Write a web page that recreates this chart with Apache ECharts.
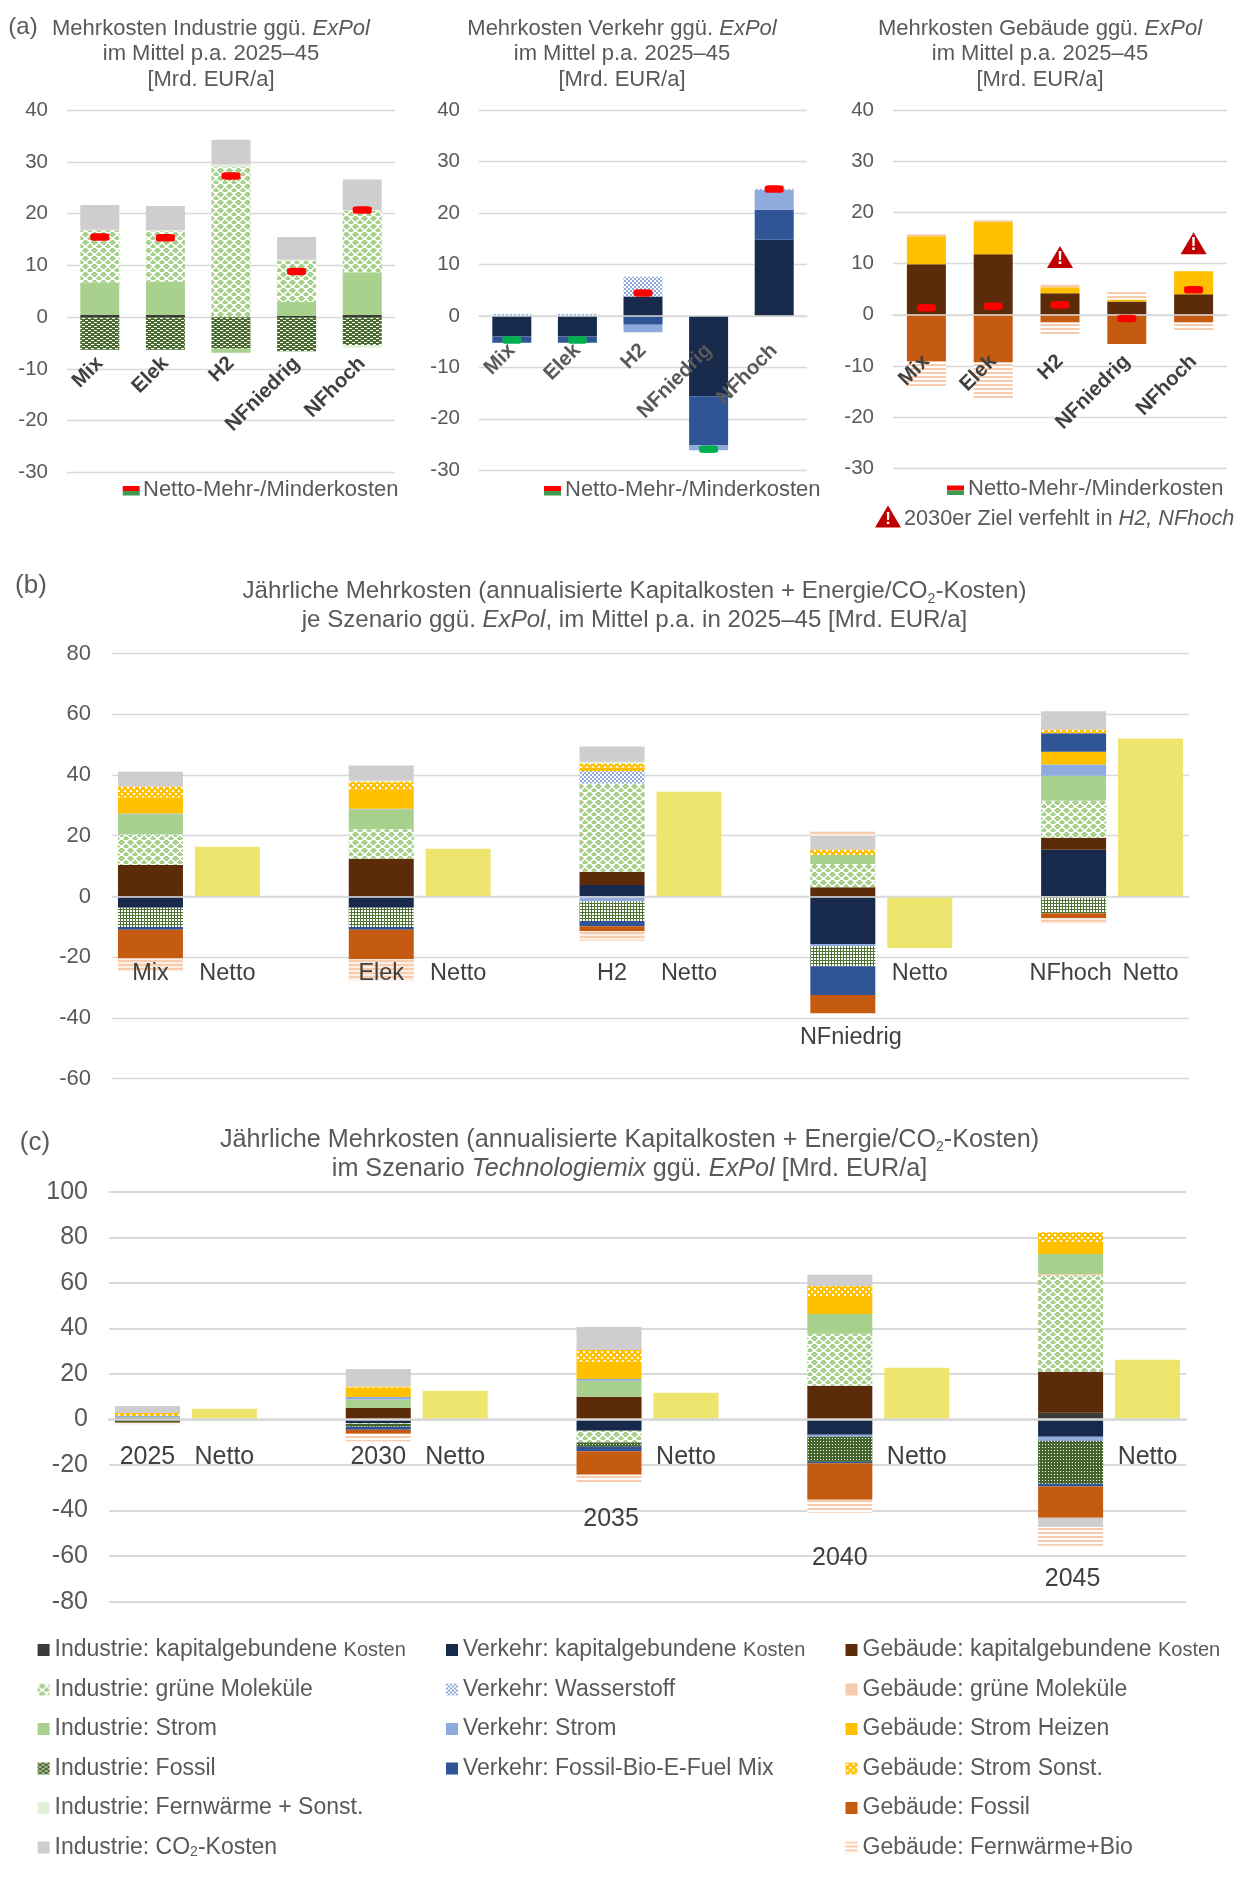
<!DOCTYPE html>
<html><head><meta charset="utf-8">
<style>html,body{margin:0;padding:0;background:#fff}#c{width:1255px;height:1882px}</style>
<script src="https://cdn.jsdelivr.net/npm/echarts@6/dist/echarts.min.js"></script>
</head><body><div id="c"></div>
<script>
/* ---------- data ---------- */
const scenarios = ['Mix','Elek','H2','NFniedrig','NFhoch'];
// (a) Industrie
const aIndKap    = [0.4,0.4,0,0.2,0.4];
const aIndStrom  = [6.3,6.5,0,2.8,8.3];
const aIndGruen  = [10.1,9.7,29,7.9,11.9];
const aIndFern   = [0.1,0.2,0.5,0.2,0.1];
const aIndCO2    = [4.8,4.7,4.8,4.4,5.9];
const aIndFossil = [-6.3,-6.3,-6.1,-6.6,-5.4];
const aIndStromN = [0,0,-0.8,0,0];
const aIndFernN  = [0,0,0,0,-0.5];
const aIndNet    = [15.5,15.35,27.3,8.85,20.7];
// (a) Verkehr
const aVerKap    = [-4.0,-4.0,3.75,-15.6,14.8];
const aVerFossil = [-1.2,-1.2,-1.7,-9.6,5.8];
const aVerStrom  = [0,0,-1.5,-0.9,3.9];
const aVerH2     = [0.4,0.4,3.85,0,0.2];
const aVerNetUp  = [null,null,4.45,null,24.65];
const aVerNetDn  = [-4.7,-4.7,null,-25.9,null];
// (a) Gebäude
const aGebKap    = [9.9,11.85,4.2,2.6,4.0];
const aGebHeiz   = [5.45,6.35,1.2,0.4,4.5];
const aGebGruen  = [0.4,0.3,0.5,0,0];
const aGebFossil = [-9.1,-9.3,-1.5,-5.7,-1.5];
const aGebFern   = [-5.1,-7.1,-2.3,1.6,-1.7];
const aGebNet    = [1.4,1.7,1.95,-0.7,4.9];
const aGebWarn   = [null,null,11.3,null,14];

// (b) scenario comparison
const bCats = ['Mix','Netto','','Elek','Netto','','H2','Netto','','NFniedrig','Netto','','NFhoch','Netto'];
const bVerKap   = [-3.75,null,null,-3.75,null,null,3.75,null,null,-15.7,null,null,15.4,null];
const bGebKap   = [10.35,null,null,12.4,null,null,4.35,null,null,3.07,null,null,3.9,null];
const bIndGruen = [10.0,null,null,9.7,null,null,29.1,null,null,7.6,null,null,12.2,null];
const bVerH2    = [0.15,null,null,0,null,null,4.1,null,null,0,null,null,0,null];
const bIndStrom = [6.6,null,null,6.6,null,null,0,null,null,2.95,null,null,8.3,null];
const bVerStrom = [0.2,null,null,0.2,null,null,-1.7,null,null,-0.7,null,null,3.7,null];
const bIndFossil= [-6.35,null,null,-6.35,null,null,-6.4,null,null,-6.6,null,null,-5.5,null];
const bHeiz     = [5.35,null,null,6.25,null,null,1.2,null,null,0,null,null,4.2,null];
const bVerFossil= [-0.9,null,null,-0.9,null,null,-1.7,null,null,-9.5,null,null,6.1,null];
const bSonst    = [3.55,null,null,2.75,null,null,1.3,null,null,1.85,null,null,1.2,null];
const bIndFern  = [0,null,null,0.2,null,null,0.6,null,null,0,null,null,0,null];
const bGebFossil= [-9.4,null,null,-9.7,null,null,-1.6,null,null,-6.0,null,null,-1.7,null];
const bCO2      = [4.9,null,null,5.0,null,null,5.0,null,null,4.5,null,null,6.0,null];
const bGebFern  = [-4.2,null,null,-6.9,null,null,-3.2,null,null,1.6,null,null,-1.7,null];
const bNetto    = [null,16.4,null,null,15.7,null,null,34.5,null,null,-17,null,null,52];

// (c) development over time
const cCats = ['2025','Netto','','2030','Netto','','2035','Netto','','2040','Netto','','2045','Netto'];
const cIndKap   = [0.2,null,null,0,null,null,0,null,null,0,null,null,2.9,null];
const cVerKap   = [-0.7,null,null,-1.6,null,null,-5,null,null,-6.7,null,null,-7.6,null];
const cGebKap   = [0.5,null,null,5.1,null,null,9.95,null,null,14.8,null,null,18,null];
const cIndGruen = [0,null,null,-0.3,null,null,-5.1,null,null,22.8,null,null,42.4,null];
const cGebGruen = [0,null,null,0,null,null,0,null,null,0,null,null,0.6,null];
const cIndStrom = [0.3,null,null,3.7,null,null,7.05,null,null,8.7,null,null,8.8,null];
const cVerStrom = [0.5,null,null,1.1,null,null,0.8,null,null,-0.9,null,null,-1.8,null];
const cIndFossil= [-0.6,null,null,-1.3,null,null,-1.9,null,null,-11,null,null,-18.8,null];
const cHeiz     = [0,null,null,4.1,null,null,7.6,null,null,7.9,null,null,5.3,null];
const cVerFossil= [0,null,null,-1.3,null,null,-2,null,null,-0.6,null,null,-1.2,null];
const cSonst    = [1.3,null,null,0.5,null,null,5.1,null,null,4.4,null,null,4.2,null];
const cGebFossil= [-0.4,null,null,-1.8,null,null,-10.3,null,null,-16,null,null,-13.7,null];
const cCO2      = [3.1,null,null,7.7,null,null,10.1,null,null,4.9,null,null,-4.1,null];
const cGebFern  = [-0.4,null,null,-3.3,null,null,-3.9,null,null,-5.7,null,null,-8.2,null];
const cNetto    = [null,4.7,null,null,12.6,null,null,11.7,null,null,22.7,null,null,26.2];

const N = {
  ik:'Industrie: kapitalgebundene Kosten', ig:'Industrie: grüne Moleküle', is:'Industrie: Strom', iff:'Industrie: Fossil', ifw:'Industrie: Fernwärme + Sonst.', ic:'Industrie: CO2-Kosten',
  vk:'Verkehr: kapitalgebundene Kosten', vh:'Verkehr: Wasserstoff', vs:'Verkehr: Strom', vf:'Verkehr: Fossil-Bio-E-Fuel Mix',
  gk:'Gebäude: kapitalgebundene Kosten', gg:'Gebäude: grüne Moleküle', gh:'Gebäude: Strom Heizen', gs:'Gebäude: Strom Sonst.', gf:'Gebäude: Fossil', gw:'Gebäude: Fernwärme+Bio'
};

/* ---------- styles ---------- */
function tile(w,h,bg,draw){const c=document.createElement('canvas');c.width=w;c.height=h;const x=c.getContext('2d');x.fillStyle=bg;x.fillRect(0,0,w,h);draw(x);return {image:c,repeat:'repeat'};}
function px(x,fg,pts){x.fillStyle=fg;pts.forEach(p=>x.fillRect(p[0],p[1],p[2]||1,p[3]||1));}
const C = {
  ik:'#3B3B38', is:'#A9D18E', ifw:'#E2F0D9', ic:'#CFCDCD', vk:'#172A4B', vs:'#8FAADC', vf:'#2F5597',
  gk:'#5C2B09', gg:'#F8CBAD', gh:'#FFC000', gf:'#C55A11', net:'#EEE56E',
  ig:tile(9,8,'#fff',x=>px(x,'#A9D18E',[[3,0,3,1],[2,1,5,1],[1,2,7,1],[2,3,5,1],[3,4,3,1],[0,4,1,1],[8,4,1,1],[0,5,2,1],[7,5,2,1],[0,6,3,1],[6,6,3,1],[0,7,2,1],[7,7,2,1]])),
  iff:tile(6,4,'#4A6B30',x=>px(x,'#fff',[[1,0,3,1],[4,2,2,1],[0,2,1,1]])),
  iffFine:tile(3,3,'#fff',x=>px(x,'#4F7335',[[0,0,3,1],[0,0,1,3]])),
  iffDense:tile(3,3,'#44652C',x=>px(x,'#fff',[[1,1,1,1]])),
  vh:tile(8,8,'#fff',x=>px(x,'#8FAADC',[[0,0,2,2],[4,0,2,2],[2,2,2,2],[6,2,2,2],[0,4,2,2],[4,4,2,2],[2,6,2,2],[6,6,2,2]])),
  gs:tile(6,6,'#FFC000',x=>px(x,'#fff',[[1,1,2,2],[4,4,2,2]])),
  gw:tile(4,4,'#fff',x=>px(x,'#F8CBAD',[[0,0,4,2]])),
  gwPale:tile(4,4,'#FDEEE4',x=>px(x,'#F8CBAD',[[0,0,4,2]]))
};
const FONT='"Liberation Sans",Arial,sans-serif', GREY='#595959', DARK='#404040';

/* ---------- layout helpers ---------- */
const grids=[
 {left:67,top:110.3,width:328,height:362},
 {left:479,top:110,width:328,height:360.3},
 {left:893,top:110.2,width:334,height:358.1},
 {left:112,top:653.6,width:1077,height:425},
 {left:109,top:1191.7,width:1077,height:410}
];
function yAx(i,min,max,interval,fs,lw){return {gridIndex:i,type:'value',min,max,interval,axisLine:{show:false},axisTick:{show:false},
  axisLabel:{fontFamily:FONT,fontSize:fs,color:GREY,margin:fs>21?21:19},splitLine:{lineStyle:{color:'#D9D9D9',width:lw}}};}
function xAxA(i,margin,color,line){return {gridIndex:i,type:'category',data:scenarios,z:10,axisTick:{show:false},
  axisLine:{show:line,onZero:true,lineStyle:{color:'#D9D9D9',width:1.5}},
  axisLabel:{interval:0,rotate:45,margin,fontFamily:FONT,fontWeight:'bold',fontSize:20.5,color,hideOverlap:false}};}
function xAxB(i,cats,margin,pad,fs){const keys=Object.keys(pad);const idx=k=>'p'+keys.indexOf(k);
 return {gridIndex:i,type:'category',data:cats,z:10,axisTick:{show:false},
  axisLine:{onZero:true,lineStyle:{color:'#D9D9D9',width:i==4?2.5:1.5}},
  axisLabel:{interval:0,margin,fontFamily:FONT,fontSize:fs,color:DARK,hideOverlap:false,
   formatter:v=>pad[v]?('{'+idx(v)+'|'+v+'}'):v,
   rich:Object.fromEntries(keys.map(k=>[idx(k),{fontFamily:FONT,fontSize:fs,color:DARK,padding:pad[k]}]))}};}
function bars(i,stack,name,data,color,bw){return {type:'bar',name,xAxisIndex:i,yAxisIndex:i,stack,data,barWidth:bw,itemStyle:{color},emphasis:{disabled:true},silent:true,animation:false};}

const series=[];
// (a) Industrie
[[N.ik,aIndKap,C.ik],[N.is,aIndStrom,C.is],[N.ig,aIndGruen,C.ig],[N.ifw,aIndFern,C.ifw],[N.ic,aIndCO2,C.ic],[N.iff,aIndFossil,C.iff],[N.is,aIndStromN,C.is],[N.ifw,aIndFernN,C.ifw]]
 .forEach(s=>series.push(bars(0,'a1',s[0],s[1],s[2],39)));
// (a) Verkehr
[[N.vk,aVerKap,C.vk],[N.vf,aVerFossil,C.vf],[N.vs,aVerStrom,C.vs],[N.vh,aVerH2,C.vh]]
 .forEach(s=>series.push(bars(1,'a2',s[0],s[1],s[2],39)));
// (a) Gebäude
[[N.gk,aGebKap,C.gk],[N.gh,aGebHeiz,C.gh],[N.gg,aGebGruen,C.gg],[N.gf,aGebFossil,C.gf],[N.gw,aGebFern,C.gw]]
 .forEach(s=>series.push(bars(2,'a3',s[0],s[1],s[2],39)));
function net(i,data,color){series.push({type:'scatter',name:'Netto-Mehr-/Minderkosten',xAxisIndex:i,yAxisIndex:i,data,symbol:'roundRect',symbolSize:[19,7.5],itemStyle:{color,opacity:1},z:12,silent:true,animation:false});}
net(0,aIndNet,'#FF0000');net(1,aVerNetUp,'#FF0000');net(1,aVerNetDn,'#00B050');net(2,aGebNet,'#FF0000');
series.push({type:'scatter',name:'2030er Ziel verfehlt',xAxisIndex:2,yAxisIndex:2,data:aGebWarn,symbol:'triangle',symbolSize:[26,22],itemStyle:{color:'#C00000',opacity:1},z:12,silent:true,animation:false,
  label:{show:true,position:'inside',formatter:'!',color:'#fff',fontFamily:FONT,fontWeight:'bold',fontSize:18,offset:[0,2]}});
// (b)
[[N.vk,bVerKap,C.vk],[N.gk,bGebKap,C.gk],[N.ig,bIndGruen,C.ig],[N.vh,bVerH2,C.vh],[N.is,bIndStrom,C.is],[N.vs,bVerStrom,C.vs],[N.iff,bIndFossil,C.iffFine],[N.gh,bHeiz,C.gh],[N.vf,bVerFossil,C.vf],[N.gs,bSonst,C.gs],[N.ifw,bIndFern,C.ifw],[N.gf,bGebFossil,C.gf],[N.ic,bCO2,C.ic],[N.gw,bGebFern,C.gwPale],['Netto',bNetto,C.net]]
 .forEach(s=>series.push(bars(3,'b',s[0],s[1],s[2],65)));
// (c)
[[N.ik,cIndKap,C.ik],[N.vk,cVerKap,C.vk],[N.gk,cGebKap,C.gk],[N.ig,cIndGruen,C.ig],[N.gg,cGebGruen,C.gg],[N.is,cIndStrom,C.is],[N.vs,cVerStrom,C.vs],[N.iff,cIndFossil,C.iffDense],[N.gh,cHeiz,C.gh],[N.vf,cVerFossil,C.vf],[N.gs,cSonst,C.gs],[N.gf,cGebFossil,C.gf],[N.ic,cCO2,C.ic],[N.gw,cGebFern,C.gw],['Netto',cNetto,C.net]]
 .forEach(s=>series.push(bars(4,'c',s[0],s[1],s[2],65)));

function legendFmt(name){
  if(name.indexOf('kapital')>0) return name.replace(' Kosten',' {s|Kosten}');
  if(name.indexOf('CO2')>0) return name.replace('CO2','CO{sub|2}');
  return name;
}
function legend(left,top,data){return {orient:'vertical',left,top,data,itemWidth:12,itemHeight:12,itemGap:15.5,selectedMode:false,icon:'rect',padding:0,formatter:legendFmt,
  textStyle:{fontFamily:FONT,fontSize:23,color:GREY,lineHeight:24,rich:{s:{fontFamily:FONT,fontSize:20,color:GREY},sub:{fontFamily:FONT,fontSize:14,color:GREY,verticalAlign:'bottom',lineHeight:18}}}};}
function title(text,left,top,fs,lh){return {text,left,top,textAlign:'center',padding:0,textStyle:{fontFamily:FONT,fontWeight:'normal',fontSize:fs,color:GREY,lineHeight:lh,rich:{i:{fontFamily:FONT,fontSize:fs,fontStyle:'italic',color:GREY,lineHeight:lh},s:{fontFamily:FONT,fontSize:14,color:GREY,verticalAlign:'bottom',lineHeight:lh}}}};}

const option={
 animation:false,backgroundColor:'#fff',
 title:[
  title('Mehrkosten Industrie ggü. {i|ExPol}\nim Mittel p.a. 2025–45\n[Mrd. EUR/a]',211,16,22,25.4),
  title('Mehrkosten Verkehr ggü. {i|ExPol}\nim Mittel p.a. 2025–45\n[Mrd. EUR/a]',622,16,22,25.4),
  title('Mehrkosten Gebäude ggü. {i|ExPol}\nim Mittel p.a. 2025–45\n[Mrd. EUR/a]',1040,16,22,25.4),
  title('(a)',23,15,24,25),
  title('Jährliche Mehrkosten (annualisierte Kapitalkosten + Energie/CO{s|2}-Kosten)\nje Szenario ggü. {i|ExPol}, im Mittel p.a. in 2025–45 [Mrd. EUR/a]',634.5,577,24.1,29),
  title('(b)',31,572,26,28),
  title('Jährliche Mehrkosten (annualisierte Kapitalkosten + Energie/CO{s|2}-Kosten)\nim Szenario {i|Technologiemix} ggü. {i|ExPol} [Mrd. EUR/a]',629.5,1125,25.2,29.5),
  title('(c)',35,1129,26,28)
 ],
 legend:[
  legend(37.6,1638,[N.ik,N.ig,N.is,N.iff,N.ifw,N.ic]),
  legend(446,1638,[N.vk,N.vh,N.vs,N.vf]),
  legend(845.5,1638,[N.gk,N.gg,N.gh,N.gs,N.gf,N.gw])
 ],
 grid:grids,
 xAxis:[xAxA(0,-112,DARK,false),xAxA(1,-123,GREY,true),xAxA(2,-110,DARK,true),
  xAxB(3,bCats,-117,{NFniedrig:[64,0,0,16],NFhoch:[0,6,0,0]},23.5),
  xAxB(4,cCats,-157,{'2035':[62,0,0,4],'2040':[101,0,0,0],'2045':[122,0,0,4]},25)],
 yAxis:[yAx(0,-30,40,10,20.5,1.3),yAx(1,-30,40,10,20.5,1.3),yAx(2,-30,40,10,20.5,1.3),yAx(3,-60,80,20,22,1.3),yAx(4,-80,100,20,25,2.2)],
 series,
 graphic:[
  ...[[122.7,486],[544,486],[947,485.5]].flatMap(p=>[
   {type:'rect',shape:{x:p[0],y:p[1],width:17,height:5},style:{fill:'#FF0000'}},
   {type:'rect',shape:{x:p[0],y:p[1]+5,width:17,height:4.5},style:{fill:'#3E9A50'}}]),
  {type:'text',style:{x:143,y:490,text:'Netto-Mehr-/Minderkosten',font:'22px '+FONT,fill:GREY,verticalAlign:'middle'}},
  {type:'text',style:{x:565,y:490,text:'Netto-Mehr-/Minderkosten',font:'22px '+FONT,fill:GREY,verticalAlign:'middle'}},
  {type:'text',style:{x:968,y:489,text:'Netto-Mehr-/Minderkosten',font:'22px '+FONT,fill:GREY,verticalAlign:'middle'}},
  {type:'polygon',shape:{points:[[888,505.5],[901,527.5],[875,527.5]]},style:{fill:'#C00000'}},
  {type:'text',style:{x:888,y:519,text:'!',font:'bold 17px '+FONT,fill:'#fff',align:'center',verticalAlign:'middle'}},
  {type:'text',style:{x:904,y:519,text:'2030er Ziel verfehlt in {i|H2, NFhoch}',font:'21.7px '+FONT,fill:GREY,verticalAlign:'middle',rich:{i:{font:'italic 21.7px '+FONT,fill:GREY}}}}
 ]
};
echarts.init(document.getElementById('c'),null,{renderer:'canvas',devicePixelRatio:1}).setOption(option);
</script></body></html>
